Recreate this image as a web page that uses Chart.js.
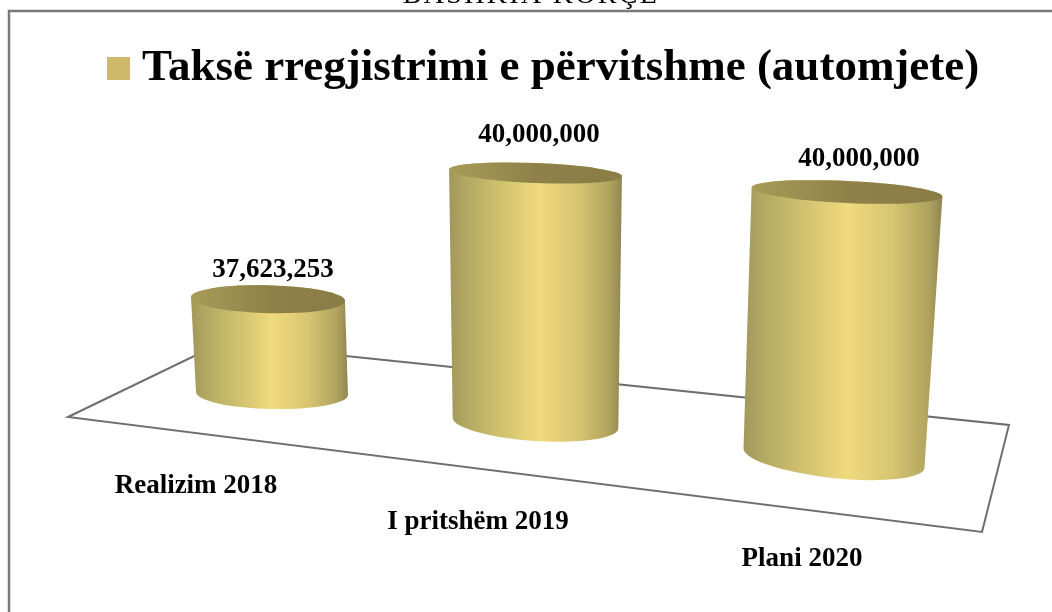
<!DOCTYPE html>
<html>
<head>
<meta charset="utf-8">
<title>Taksë rregjistrimi e përvitshme (automjete)</title>
<script src="https://cdn.jsdelivr.net/npm/chart.js@4"></script>
<style>
  html, body { margin: 0; padding: 0; background: #fff; overflow: hidden; }
  canvas { display: block; }
</style>
</head>
<body>
<canvas id="myChart" width="1052" height="612"></canvas>
<script>
const docHeading = "BASHKIA KORÇË";
const seriesName = "Taksë rregjistrimi e përvitshme (automjete)";
const categories = ["Realizim 2018", "I pritshëm 2019", "Plani 2020"];
const seriesValues = [37623253, 40000000, 40000000];
const axisMin = 36000000;
const axisMax = 42000000;

const FONT = "'Liberation Serif', serif";
const BAR_COLOR = "#cdb968";

// fake 3D: how each bar is pushed around by its depth on the floor
const perspective = [
    { dx: 18.5, dy: -29.5, hScale: 0.93, lean: -4, rxTop: 77, rxBot: 76, ryTop: 14, ryBot: 15.5, tiltTop: 0.025, tiltBot: 0.02, labelDx: 5, labelDy: -22, catDx: -57.5, catY: 493 },
    { dx: -8, dy: 0, hScale: 1, lean: 0, rxTop: 86.5, rxBot: 83, ryTop: 10, ryBot: 18, tiltTop: 0.04, tiltBot: 0.066, labelDx: 3.5, labelDy: -31, catDx: -65.5, catY: 529 },
    { dx: 0.5, dy: 35, hScale: 1.064, lean: 13, rxTop: 95.5, rxBot: 91, ryTop: 11, ryBot: 20, tiltTop: 0.047, tiltBot: 0.11, labelDx: 12, labelDy: -26, catDx: -31.5, catY: 566 }
];

// floor of the 3D box
const floorCorners = [[68, 417], [221, 343], [1009, 425], [982, 532]];

function sideGradient(ctx, left, right) {
    let g = ctx.createLinearGradient(left, 0, right, 0);
    g.addColorStop(0, "#a0975a");
    g.addColorStop(0.1, "#b4a963");
    g.addColorStop(0.3, "#d0c16e");
    g.addColorStop(0.52, "#f0da7e");
    g.addColorStop(0.75, "#d6c571");
    g.addColorStop(0.93, "#b0a35f");
    g.addColorStop(1, "#8f8552");
    return g;
}

function capGradient(ctx, left, right) {
    let g = ctx.createLinearGradient(left, 0, right, 0);
    g.addColorStop(0, "#a89c58");
    g.addColorStop(0.5, "#8f8149");
    g.addColorStop(1, "#8a7c45");
    return g;
}

function drawCylinder(ctx, bar, p) {
    let xBot = bar.x + p.dx;
    let yBot = bar.base + p.dy;
    let xTop = xBot + p.lean;
    let yTop = yBot - (bar.base - bar.y) * p.hScale;
    let left = Math.min(xBot - p.rxBot, xTop - p.rxTop);
    let right = Math.max(xBot + p.rxBot, xTop + p.rxTop);

    ctx.beginPath();
    ctx.ellipse(xBot, yBot, p.rxBot, p.ryBot, p.tiltBot, 0, Math.PI);
    ctx.ellipse(xTop, yTop, p.rxTop, p.ryTop, p.tiltTop, Math.PI, Math.PI * 2);
    ctx.closePath();
    ctx.fillStyle = sideGradient(ctx, left, right);
    ctx.fill();

    ctx.beginPath();
    ctx.ellipse(xTop, yTop, p.rxTop, p.ryTop, p.tiltTop, 0, Math.PI * 2);
    ctx.fillStyle = capGradient(ctx, xTop - p.rxTop, xTop + p.rxTop);
    ctx.fill();

    return { xTop: xTop, yTop: yTop };
}

const cylinderPlugin = {
    id: "cylinders",
    beforeDraw(chart) {
        let ctx = chart.ctx;
        ctx.save();
        // frame runs off the right and bottom of the page
        ctx.strokeStyle = "#7a7a7a";
        ctx.lineWidth = 2.5;
        ctx.beginPath();
        ctx.moveTo(9, 612);
        ctx.lineTo(9, 11);
        ctx.lineTo(1052, 11);
        ctx.stroke();

        ctx.fillStyle = "#000";
        ctx.font = "28px " + FONT;
        ctx.letterSpacing = "2.3px";
        ctx.textAlign = "center";
        ctx.textBaseline = "alphabetic";
        ctx.fillText(docHeading, 531, 3);
        ctx.letterSpacing = "0px";

        // legend: swatch sits closer to the text than the built in one allows
        ctx.fillStyle = chart.data.datasets[0].backgroundColor;
        ctx.fillRect(107, 57, 23, 23);
        ctx.fillStyle = "#000";
        ctx.font = "bold 45px " + FONT;
        ctx.textAlign = "left";
        ctx.fillText(chart.data.datasets[0].label, 142, 80);

        ctx.strokeStyle = "#6e6e6e";
        ctx.lineWidth = 2;
        ctx.beginPath();
        floorCorners.forEach(function (c, i) {
            if (i === 0) ctx.moveTo(c[0], c[1]);
            else ctx.lineTo(c[0], c[1]);
        });
        ctx.closePath();
        ctx.stroke();
        ctx.restore();
    },
    // the plain rectangles are replaced by the cylinders below
    beforeDatasetDraw() {
        return false;
    },
    afterDatasetsDraw(chart) {
        let ctx = chart.ctx;
        let bars = chart.getDatasetMeta(0).data;
        ctx.save();
        bars.forEach(function (bar, i) {
            let p = perspective[i];
            let top = drawCylinder(ctx, bar, p);

            ctx.fillStyle = "#000";
            ctx.textAlign = "center";
            ctx.textBaseline = "alphabetic";
            ctx.font = "bold 27px " + FONT;
            ctx.fillText(seriesValues[i].toLocaleString("en-US"), top.xTop + p.labelDx, top.yTop + p.labelDy);
            ctx.fillText(categories[i], bar.x + p.catDx, p.catY);
        });
        ctx.restore();
    }
};

new Chart(document.getElementById("myChart"), {
    type: "bar",
    data: {
        labels: categories,
        datasets: [{
            label: seriesName,
            data: seriesValues,
            base: axisMin,
            backgroundColor: BAR_COLOR,
            barPercentage: 0.6,
            categoryPercentage: 1
        }]
    },
    options: {
        responsive: false,
        animation: false,
        layout: { padding: { top: 48, bottom: 189, left: 108.5, right: 73.5 } },
        scales: {
            x: { display: false },
            y: { display: false, min: axisMin, max: axisMax }
        },
        plugins: {
            tooltip: { enabled: false },
            legend: { display: false }
        }
    },
    plugins: [cylinderPlugin]
});
</script>
</body>
</html>
